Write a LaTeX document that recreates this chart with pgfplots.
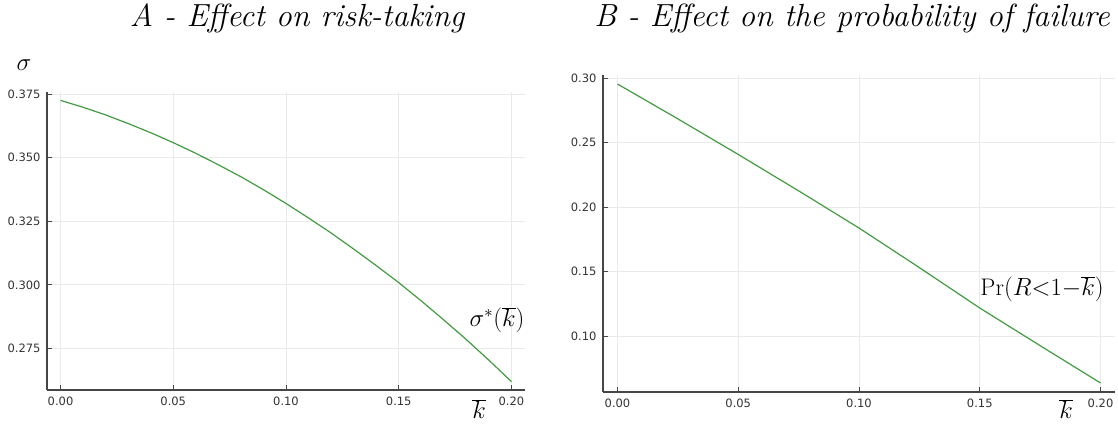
\documentclass[border=0pt]{standalone}
\usepackage{fontspec}
\usepackage{pgfplots}
\pgfplotsset{compat=1.18}
\newfontfamily\tickfont{DejaVu Sans}
\definecolor{curve}{RGB}{66,155,66}
\definecolor{axisgray}{RGB}{70,70,70}
\definecolor{gridgray}{RGB}{234,234,234}
\pgfplotsset{
  panel/.style={
    scale only axis,
    axis x line*=bottom, axis y line*=left,
    axis line style={axisgray, line width=1.2pt, -},
    tick style={axisgray, line width=0.8pt},
    tick align=inside, major tick length=5pt,
    grid=major, major grid style={gridgray, line width=0.8pt},
    tick label style={font=\fontsize{11.5}{12}\selectfont\tickfont, text=black!80},
    /pgf/number format/assume math mode=true,
    scaled ticks=false,
    xmin=-0.006, xmax=0.206,
    xtick={0,0.05,0.1,0.15,0.2},
    xticklabel style={yshift=-3pt, /pgf/number format/.cd, fixed, zerofill, precision=2},
  },
}
\begin{document}
\begin{tikzpicture}
\path (0,0) rectangle (1118pt,428pt);

% Panel A
\begin{axis}[panel, at={(47pt,38pt)}, anchor=south west,
    width=478pt, height=298pt,
    ymin=0.2587, ymax=0.3758,
    ytick={0.275,0.3,0.325,0.35,0.375},
    yticklabel style={xshift=-3pt, /pgf/number format/.cd, fixed, zerofill, precision=3},
]
\addplot[curve, line width=1.2pt] coordinates {
  (0.00,0.3725) (0.01,0.3698) (0.02,0.3668) (0.03,0.3634) (0.04,0.3598)
  (0.05,0.3559) (0.06,0.3517) (0.07,0.3472) (0.08,0.3425) (0.09,0.3374)
  (0.10,0.3320) (0.11,0.3263) (0.12,0.3204) (0.13,0.3141) (0.14,0.3076)
  (0.15,0.3009) (0.16,0.2937) (0.17,0.2862) (0.18,0.2785) (0.19,0.2704)
  (0.20,0.2620)};
\end{axis}

% Panel B
\begin{axis}[panel, at={(603pt,36pt)}, anchor=south west,
    width=512pt, height=317pt,
    ymin=0.0566, ymax=0.3023,
    ytick={0.1,0.15,0.2,0.25,0.3},
    yticklabel style={xshift=-3pt, /pgf/number format/.cd, fixed, zerofill, precision=2},
]
\addplot[curve, line width=1.2pt] coordinates {
  (0.000,0.2953) (0.025,0.2683) (0.050,0.2407) (0.075,0.2125)
  (0.100,0.1837) (0.125,0.1530) (0.150,0.1217) (0.175,0.0925)
  (0.200,0.0636)};
\end{axis}

% titles and labels
\node[anchor=base, font=\fontsize{32}{36}\selectfont\itshape] at (297pt,401pt) {A - Effect on risk-taking};
\node[anchor=base, font=\fontsize{32}{36}\selectfont\itshape] at (852pt,401pt) {B - Effect on the probability of failure};
\node[font=\fontsize{28}{32}\selectfont] at (24pt,363pt) {$\sigma$};
\node[font=\fontsize{28}{32}\selectfont] at (479pt,19pt) {$\overline{k}$};
\node[font=\fontsize{28}{32}\selectfont] at (1066pt,19pt) {$\overline{k}$};
\node[font=\fontsize{27}{32}\selectfont] at (497pt,108pt) {$\sigma^*(\overline{k})$};
\node[font=\fontsize{24}{28}\selectfont] at (1042pt,139pt) {$\mathrm{Pr}(R{<}1{-}\overline{k})$};
\end{tikzpicture}
\end{document}
